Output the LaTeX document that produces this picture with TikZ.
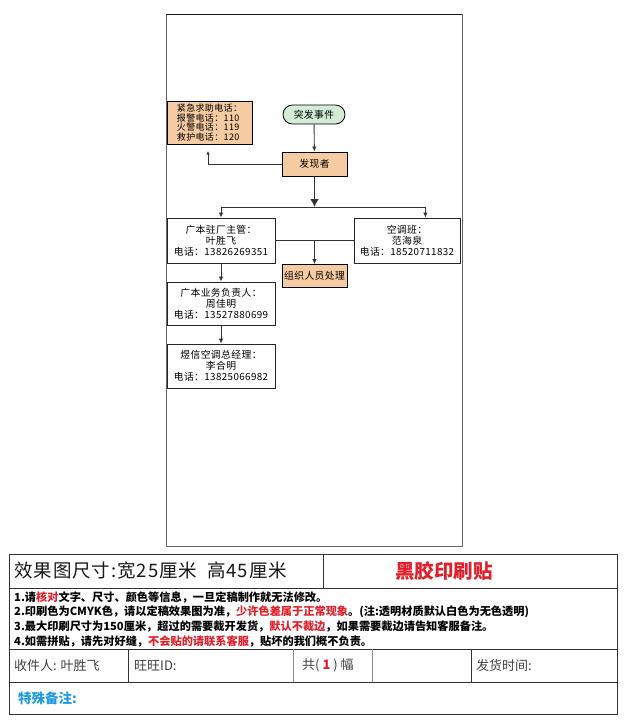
\documentclass[tikz,border=0pt]{standalone}
\usepackage{fontspec}
\setmainfont{Noto Sans CJK SC}
\newfontfamily\flowfont[LetterSpace=4]{Noto Sans CJK SC}
\newfontfamily\headfont[LetterSpace=5]{Noto Sans CJK SC}
\usetikzlibrary{arrows.meta,positioning}

\definecolor{boxfill}{HTML}{F5CBA2}
\definecolor{startfill}{HTML}{D2ECD6}
\definecolor{notered}{HTML}{E0202A}
\definecolor{noteblue}{HTML}{1E9BE0}
\definecolor{celltext}{HTML}{404040}

\tikzset{
  flowbox/.style={draw=black, line width=0.8pt, fill=boxfill, minimum width=65pt,
    minimum height=24pt, inner sep=0pt, font=\flowfont\fontsize{9.8}{11}\selectfont},
  infobox/.style={draw=black!85, line width=0.8pt, fill=white, minimum width=108pt,
    minimum height=45pt, inner sep=0pt, align=center,
    font=\flowfont\fontsize{9.8}{11}\selectfont},
  link/.style={draw=black!80, line width=0.9pt},
  noteline/.style={anchor=west, inner sep=0pt, font=\bfseries\fontsize{11.2}{13}\selectfont},
  cell/.style={anchor=west, inner sep=0pt, text=celltext, font=\fontsize{13}{15}\selectfont},
  grid/.style={draw=black!80, line width=1pt},
}

\begin{document}
\begin{tikzpicture}[x=1pt,y=-1pt,>={Latex[length=5pt,width=4.5pt]}]
\useasboundingbox (0,0) rectangle (625,724);

% sheet
\draw[draw=black!60, line width=1pt] (166,14) rectangle (462,546);
\draw[draw=black!90, line width=1pt] (166,14) -- (462,14);

% flow chart
\node[flowbox, fill=startfill, minimum width=62pt, minimum height=19pt,
  rounded corners=9.5pt] (event) at (314,114.5) {突发事件};
\node[flowbox] (finder) at (314.5,164) {发现者};
\node[flowbox, minimum width=85pt, minimum height=43pt, align=left,
  font=\flowfont\fontsize{9}{9.8}\selectfont] (emerg) at (209.5,122.5)
  {紧急求助电话：\\报警电话：110\\火警电话：119\\救护电话：120};
\coordinate (emergtip) at (208,151);
\coordinate (split) at (314.5,207);

\node[infobox] (mgr) at (221,240.5) {广本驻厂主管：\\叶胜飞\\电话：13826269351};
\node[infobox, minimum width=106pt] (ac) at (407,240.5) {空调班：\\范海泉\\电话：18520711832};
\node[flowbox, minimum height=23pt] (org) at (314.5,276) {组织人员处理};
\node[infobox, minimum height=43pt] (biz) at (221,303.5) {广本业务负责人：\\周佳明\\电话：13527880699};
\node[infobox, minimum height=44pt] (gm) at (221,366) {煜信空调总经理：\\李合明\\电话：13825066982};

\draw[link, ->] (event) -- (finder);
\draw[link, -{Latex[length=3.5pt,width=3.5pt]}] (finder.west) -| (emergtip);
\draw[link, line width=1.6pt, -{Latex[length=8pt,width=9pt]}] (finder) -- (split);
\draw[link] (mgr.north |- split) -- ([xshift=-35pt]ac.north east |- split);
\draw[link, ->] (mgr.north |- split) -- (mgr.north);
\draw[link, ->] ([xshift=-35pt]ac.north east |- split) -- ([xshift=-35pt]ac.north east);
\draw[link] (mgr.east) -- (ac.west);
\draw[link, ->] (mgr.east -| org.north) -- (org.north);
\draw[link, ->] (mgr) -- (biz);
\draw[link, ->] (biz) -- (gm);

% order table
\draw[grid] (9,554) rectangle (617,714);
\draw[grid] (9,588) -- (617,588);
\draw[grid] (9,649) -- (617,649);
\draw[grid] (9,682) -- (617,682);
\draw[grid] (323,554) -- (323,588);
\draw[grid] (128,649) -- (128,682);
\draw[grid, draw=black!45] (293,649) -- (293,682);
\draw[grid, draw=black!45] (372,649) -- (372,682);
\draw[grid] (471,649) -- (471,682);

\node[anchor=west, inner sep=0pt, font=\headfont\fontsize{18.5}{20}\selectfont,
  text=black!90] (size) at (14,571) {效果图尺寸:宽25厘米\ \ 高45厘米};
\node[inner sep=0pt, text=notered, font=\bfseries\fontsize{19.5}{21}\selectfont]
  (title) at (444,571) {黑胶印刷贴};

\foreach \y/\txt in {
  597/{1.请\textcolor{notered}{核对}文字、尺寸、颜色等信息，一旦定稿制作就无法修改。},
  612/{2.印刷色为CMYK色，请以定稿效果图为准，\textcolor{notered}{少许色差属于正常现象}。(注:透明材质默认白色为无色透明)},
  626/{3.最大印刷尺寸为150厘米，超过的需要裁开发货，\textcolor{notered}{默认不裁边}，如果需要裁边请告知客服备注。},
  641/{4.如需拼贴，请先对好缝，\textcolor{notered}{不会贴的请联系客服}，贴坏的我们概不负责。}
} {
  \node[noteline] (note\y) at (14,\y) {\txt};
}

\node[cell] (receiver) at (14,665.5) {收件人: 叶胜飞};
\node[cell] (wangwang) at (134,665.5) {旺旺ID:};
\node[cell] (count) at (302,665.5) {共(~\textcolor{notered}{\bfseries 1}~)~幅};
\node[cell] (shipdate) at (476,665.5) {发货时间:};
\node[cell, text=noteblue, font=\bfseries\fontsize{13.5}{15}\selectfont] (remark) at (18,698) {特殊备注:};
\end{tikzpicture}
\end{document}
